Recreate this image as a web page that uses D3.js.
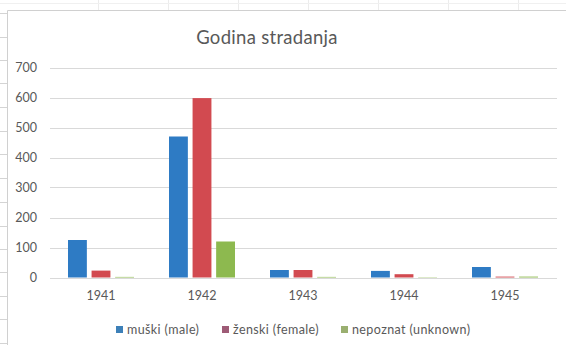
<!DOCTYPE html>
<html>
<head>
<meta charset="utf-8">
<script src="https://cdn.jsdelivr.net/npm/d3@7"></script>
<style>
  html, body { margin: 0; padding: 0; background: #ffffff; }
  svg { display: block; }
  text { font-family: Lato, "Open Sans", sans-serif; fill: #595959; }
</style>
</head>
<body>
<svg id="chart" width="566" height="345"></svg>
<script>
// Victims by year of death, split by sex
const years = ["1941", "1942", "1943", "1944", "1945"];
const seriesNames = ["muški (male)", "ženski (female)", "nepoznat (unknown)"];
const male = [125, 470, 25, 22, 35];
const female = [23, 598, 25, 11, 3];
const unknown = [2, 120, 2, 1, 3];
const yTicks = [0, 100, 200, 300, 400, 500, 600, 700];
const colors = ["#2E7BC4", "#D24A50", "#8DB94F"];
const legendColors = ["#3D80B8", "#9E5B76", "#9AAF70"];

const seriesValues = [male, female, unknown];

const svg = d3.select("#chart");

// Worksheet grid behind the chart object
const sheet = svg.append("g");
[13, 37, 60, 83, 107, 131, 154, 178, 202, 226, 249, 272, 296, 319, 343].forEach(y => {
  sheet.append("line").attr("x1", 0).attr("x2", 7).attr("y1", y + 0.5).attr("y2", y + 0.5)
    .attr("stroke", "#d4d4d4");
});
[98, 168, 238, 308, 378, 448, 518].forEach(x => {
  sheet.append("line").attr("x1", x + 0.5).attr("x2", x + 0.5).attr("y1", 0).attr("y2", 10)
    .attr("stroke", "#ececec");
});
sheet.append("line").attr("x1", 0).attr("x2", 566).attr("y1", 3.5).attr("y2", 3.5).attr("stroke", "#f0f0f0");

// Chart object border
svg.append("path")
  .attr("d", "M7.5,345 V10.5 H566")
  .attr("fill", "none")
  .attr("stroke", "#d0d0d0");

const x0 = d3.scaleBand().domain(years).range([50.5, 555.5]).paddingInner(0);
const x1 = d3.scaleBand().domain(seriesNames).range([-33, 33]).paddingInner(0.2);
const y = d3.scaleLinear().domain([0, 700]).range([277.5, 67.5]);

// Gridlines
svg.append("g")
  .selectAll("line")
  .data(yTicks)
  .join("line")
  .attr("x1", 50).attr("x2", 557)
  .attr("y1", d => Math.round(y(d)) + 0.5)
  .attr("y2", d => Math.round(y(d)) + 0.5)
  .attr("stroke", "#d9d9d9");

// Y axis labels
const yAxis = d3.axisLeft(y).tickValues(yTicks).tickSize(0).tickPadding(0);
const gy = svg.append("g").attr("transform", "translate(37,0)").call(yAxis);
gy.select(".domain").remove();
gy.selectAll("text").attr("font-size", 12.5).attr("fill", "#595959")
  .style("font-family", "Lato, 'Open Sans', sans-serif");

// X axis labels
const xAxis = d3.axisBottom(x0).tickSize(0).tickPadding(0);
const gx = svg.append("g").attr("transform", "translate(0,291)").call(xAxis);
gx.select(".domain").remove();
gx.selectAll("text").attr("font-size", 12.5).attr("fill", "#595959")
  .style("font-family", "Lato, 'Open Sans', sans-serif");

// Bars
seriesNames.forEach((name, si) => {
  svg.append("g")
    .selectAll("rect")
    .data(years.map((yr, i) => ({ yr, v: seriesValues[si][i] })))
    .join("rect")
    .attr("x", d => x0(d.yr) + x0.bandwidth() / 2 + x1(name))
    .attr("width", x1.bandwidth())
    .attr("y", d => y(d.v))
    .attr("height", d => y(0) - y(d.v))
    .attr("fill", colors[si]);
});

// Title
svg.append("text")
  .attr("x", 267).attr("y", 44)
  .attr("text-anchor", "middle")
  .attr("font-size", 18.5)
  .attr("letter-spacing", 0.3)
  .text("Godina stradanja");

// Legend
const legendX = [116, 222, 341];
const lg = svg.append("g");
seriesNames.forEach((name, i) => {
  lg.append("rect").attr("x", legendX[i]).attr("y", 326).attr("width", 7).attr("height", 7)
    .attr("fill", legendColors[i]);
  lg.append("text").attr("x", legendX[i] + 11).attr("y", 334)
    .attr("font-size", 12.5).attr("letter-spacing", 0.4).text(name);
});
</script>
</body>
</html>
